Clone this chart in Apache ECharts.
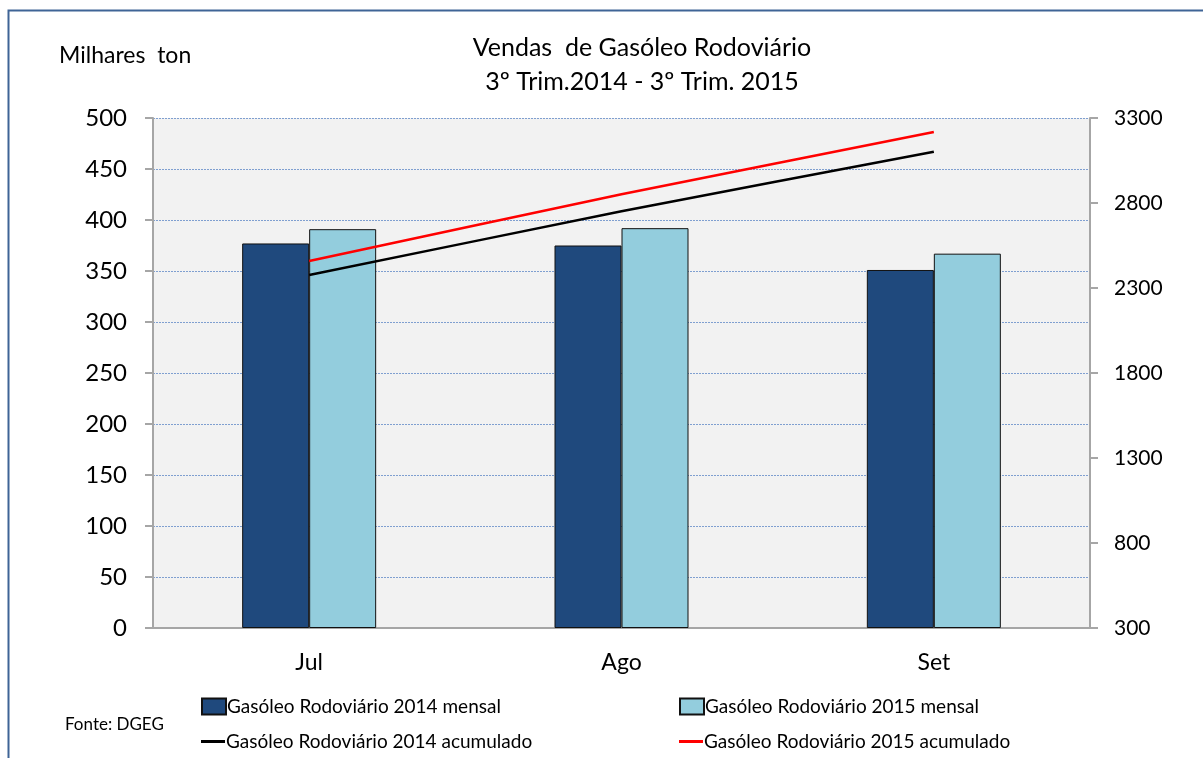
<!DOCTYPE html>
<html>
<head>
<meta charset="utf-8">
<script src="https://cdn.jsdelivr.net/npm/echarts@6/dist/echarts.min.js"></script>
<style>
  html, body { margin: 0; padding: 0; background: #fff; }
  #chart { width: 1203px; height: 758px; }
</style>
</head>
<body>
<div id="chart"></div>
<script>
// dados (milhares de toneladas)
const meses = ['Jul', 'Ago', 'Set']
const mensal2014 = [377, 375, 351]
const mensal2015 = [391, 392, 367]
const acumulado2014 = [2376, 2751, 3102]
const acumulado2015 = [2459, 2851, 3218]
const nomes = [
  'Gasóleo Rodoviário 2014 mensal',
  'Gasóleo Rodoviário 2015 mensal',
  'Gasóleo Rodoviário 2014 acumulado',
  'Gasóleo Rodoviário 2015 acumulado'
]

const font = 'Lato, "Open Sans", sans-serif'
const chart = echarts.init(document.getElementById('chart'))

// uma legenda por item, para ficar em duas colunas como no original
function legenda (nome, left, top, linha) {
  return {
    left: left,
    top: top,
    itemWidth: 24,
    itemHeight: linha ? 3 : 16,
    icon: 'rect',
    textStyle: { fontFamily: font, fontSize: 19, color: '#000', padding: [0, 0, 0, -4] },
    data: [nome]
  }
}

chart.setOption({
  backgroundColor: '#fff',
  textStyle: { fontFamily: font, color: '#000' },
  title: [
    {
      text: 'Vendas  de Gasóleo Rodoviário\n3º Trim.2014 - 3º Trim. 2015',
      left: 637,
      top: 26,
      textAlign: 'center',
      textStyle: { fontFamily: font, fontSize: 25, fontWeight: 'normal', color: '#000', lineHeight: 34 }
    },
    {
      text: 'Milhares  ton',
      left: 54,
      top: 39,
      textStyle: { fontFamily: font, fontSize: 23, fontWeight: 'normal', color: '#000' }
    },
    {
      text: 'Fonte: DGEG',
      left: 60,
      top: 711,
      textStyle: { fontFamily: font, fontSize: 17, fontWeight: 'normal', color: '#000' }
    }
  ],
  graphic: [
    {
      type: 'rect',
      shape: { x: 8.5, y: 10.5, width: 1220, height: 800 },
      style: { fill: 'none', stroke: '#3f6496', lineWidth: 2 },
      silent: true
    }
  ],
  legend: [
    legenda(nomes[0], 196, 692, false),
    legenda(nomes[1], 674, 692, false),
    legenda(nomes[2], 196, 727, true),
    legenda(nomes[3], 674, 727, true)
  ],
  grid: {
    left: 153,
    right: 113,
    top: 118,
    bottom: 130,
    show: true,
    backgroundColor: '#f2f2f2',
    borderWidth: 0
  },
  xAxis: {
    type: 'category',
    data: meses,
    boundaryGap: true,
    axisLine: { lineStyle: { color: '#a6a6a6', width: 2 } },
    axisTick: { length: 8, lineStyle: { color: '#a6a6a6', width: 2 } },
    axisLabel: { fontFamily: font, fontSize: 23, color: '#000', margin: 23 }
  },
  yAxis: [
    {
      type: 'value',
      min: 0,
      max: 500,
      interval: 50,
      axisLine: { show: true, lineStyle: { color: '#a6a6a6', width: 2 } },
      axisTick: { show: true, length: 8, lineStyle: { color: '#a6a6a6', width: 2 } },
      axisLabel: { fontFamily: font, fontSize: 24, color: '#000', margin: 26 },
      splitLine: { lineStyle: { color: '#7f9fd0', type: [2, 1], width: 1 } }
    },
    {
      type: 'value',
      min: 300,
      max: 3300,
      interval: 500,
      position: 'right',
      axisLine: { show: true, lineStyle: { color: '#a6a6a6', width: 2 } },
      axisTick: { show: true, length: 8, lineStyle: { color: '#a6a6a6', width: 2 } },
      axisLabel: {
        fontFamily: font,
        fontSize: 21,
        color: '#000',
        margin: 24,
        formatter: function (v) { return String(v) }
      },
      splitLine: { show: false }
    }
  ],
  series: [
    {
      name: nomes[0],
      type: 'bar',
      data: mensal2014,
      barWidth: 67,
      barGap: '0%',
      itemStyle: { color: '#1f497d', borderColor: '#111', borderWidth: 1 }
    },
    {
      name: nomes[1],
      type: 'bar',
      data: mensal2015,
      barWidth: 67,
      barGap: '0%',
      itemStyle: { color: '#93cddd', borderColor: '#111', borderWidth: 1 }
    },
    {
      name: nomes[2],
      type: 'line',
      yAxisIndex: 1,
      data: acumulado2014,
      symbol: 'none',
      smooth: 0.15,
      lineStyle: { color: '#000', width: 2.5 },
      itemStyle: { color: '#000' }
    },
    {
      name: nomes[3],
      type: 'line',
      yAxisIndex: 1,
      data: acumulado2015,
      symbol: 'none',
      smooth: 0.15,
      lineStyle: { color: '#ff0000', width: 2.5 },
      itemStyle: { color: '#ff0000' }
    }
  ]
})
</script>
</body>
</html>
